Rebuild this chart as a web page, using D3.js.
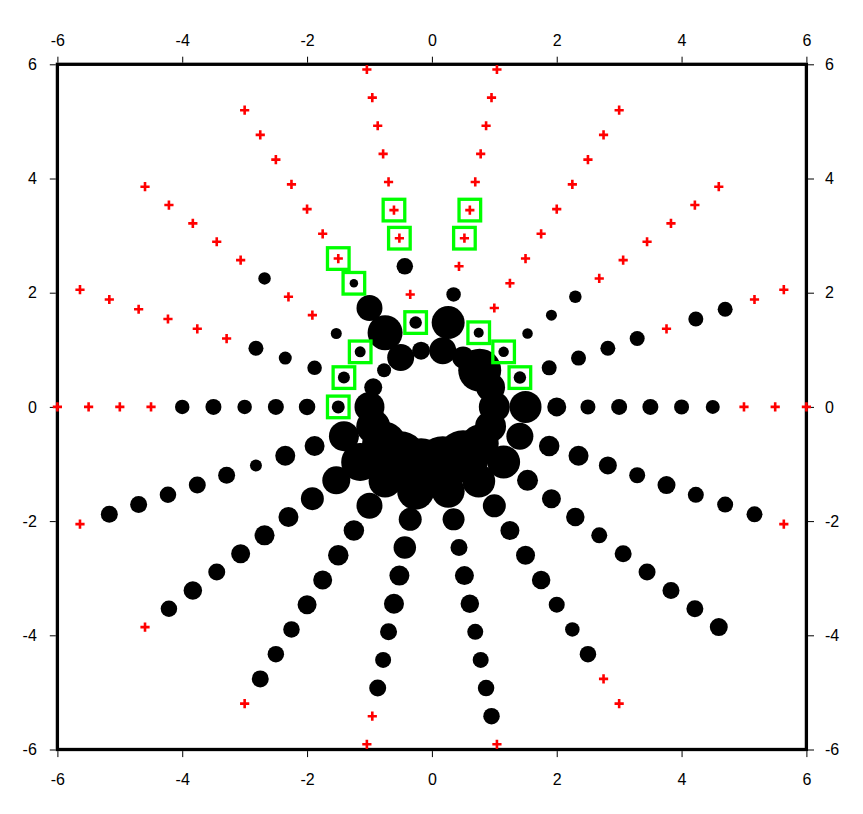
<!DOCTYPE html>
<html><head><meta charset="utf-8">
<script src="https://cdn.jsdelivr.net/npm/d3@7"></script>
<style>html,body{margin:0;padding:0;background:#fff}</style>
</head><body>
<svg id="chart" width="863" height="814"></svg>
<script>
// ---- data ----
const tickValues = [-6, -4, -2, 0, 2, 4, 6];
const angles = [0, 20, 40, 60, 80, 100, 120, 140, 160, 180, 200, 220, 240, 260, 280, 300, 320, 340];
const radii  = [0.5, 1, 1.5, 2, 2.5, 3, 3.5, 4, 4.5, 5, 5.5, 6];
// symbol size (pt) per ray and radius; NaN = undefined value (red +), null = no symbol
const ray000 = [null, 31, 32, 19, 15, 16, 16, 15, 14, NaN, NaN, NaN];
const ray020 = [null, 29, 12.5, 15, 15, 15, 15, NaN, 15, 15, NaN, NaN];
const ray040 = [null, 43, 10.5, 10.5, 11, 12.5, NaN, NaN, NaN, NaN, NaN, NaN];
const ray060 = [null, 22, 10, NaN, NaN, NaN, NaN, NaN, NaN, NaN, NaN, NaN];
const ray080 = [null, 27, 33, 14.5, NaN, NaN, NaN, NaN, NaN, NaN, NaN, NaN];
const ray100 = [null, 18, 12.5, NaN, 16.5, NaN, NaN, NaN, NaN, NaN, NaN, NaN];
const ray120 = [null, 27, 35, 26, 8.5, NaN, NaN, NaN, NaN, NaN, NaN, NaN];
const ray140 = [null, 14, 11, 11, NaN, NaN, 12.5, NaN, NaN, NaN, NaN, NaN];
const ray160 = [null, 18, 12, 14.5, 13, 15, NaN, NaN, NaN, NaN, NaN, NaN];
const ray180 = [null, 30, 13, 16.5, 16, 14.5, 16, 14.5, NaN, NaN, NaN, NaN];
const ray200 = [null, 34, 30, 20, 20, 12, 17, 17, 16.5, 17, 17, NaN];
const ray220 = [null, 44, 38, 28, 23, 20, 20, 19, 17, 18.5, 16.5, NaN];
const ray240 = [null, 50, 33, 26, 20.5, 20.5, 19, 19, 16.5, 16.5, 17, NaN];
const ray260 = [null, 50, 37, 23, 22.5, 20, 20, 17, 16, 17, NaN, NaN];
const ray280 = [null, 54, 33, 22, 17, 19, 18.5, 16, 16, 16.5, 16.5, NaN];
const ray300 = [null, 52, 33, 23, 19, 19, 18.5, 16, 14.5, 16.5, NaN, NaN];
const ray320 = [null, 38, 33, 21, 19, 18.5, 16, 17, 17, 17, 17, 18];
const ray340 = [null, 31, 27, 20.5, 20, 18, 16, 18, 16, 16, 16, NaN];
const rays = [ray000, ray020, ray040, ray060, ray080, ray100, ray120, ray140, ray160,
              ray180, ray200, ray220, ray240, ray260, ray280, ray300, ray320, ray340];
// highlighted points [angle, radius]
const flagged = [[20,1.5],[40,1.5],[60,1.5],[80,3],[80,3.5],[100,1.5],[100,3],[100,3.5],
                 [120,2.5],[120,3],[140,1.5],[160,1.5],[180,1.5]];

// ---- chart ----
const svg = d3.select('#chart');
const x = d3.scaleLinear().domain([-6, 6]).range([57.4, 806.4]);
const y = d3.scaleLinear().domain([-6, 6]).range([749.5, 64.3]);
const size = d3.scaleLinear().domain([0, 72]).range([0, 72]);
const rad = d3.scaleLinear().domain([0, 180]).range([0, Math.PI]);

const pts = [];
rays.forEach((ray, i) => ray.forEach((v, j) => {
  if (v === null) return;
  const t = rad(angles[i]);
  pts.push({a: angles[i], r: radii[j], v, px: x(radii[j]*Math.cos(t)), py: y(radii[j]*Math.sin(t))});
}));

// frame
svg.append('rect').attr('x', x(-6)).attr('y', y(6))
  .attr('width', x(6)-x(-6)).attr('height', y(-6)-y(6))
  .attr('fill', 'none').attr('stroke', '#000').attr('stroke-width', 3.3);

const font = '"Liberation Sans", Arial, Helvetica, sans-serif';
function styleAxis(g) {
  g.select('.domain').remove();
  g.selectAll('.tick line').attr('stroke', '#000').attr('stroke-width', 1);
  g.selectAll('.tick text').attr('fill', '#000').style('font-family', font).style('font-size', '16px');
}
const fmt = d => String(d);
svg.append('g').attr('transform', `translate(0,${y(6)-1.6})`)
  .call(d3.axisTop(x).tickValues(tickValues).tickFormat(fmt).tickSize(6).tickPadding(11)).call(styleAxis);
svg.append('g').attr('transform', `translate(0,${y(-6)+1.6})`)
  .call(d3.axisBottom(x).tickValues(tickValues).tickFormat(fmt).tickSize(6).tickPadding(17)).call(styleAxis);
svg.append('g').attr('transform', `translate(${x(-6)-1.6},0)`)
  .call(d3.axisLeft(y).tickValues(tickValues).tickFormat(fmt).tickSize(6).tickPadding(13)).call(styleAxis);
svg.append('g').attr('transform', `translate(${x(6)+1.6},0)`)
  .call(d3.axisRight(y).tickValues(tickValues).tickFormat(fmt).tickSize(6).tickPadding(11)).call(styleAxis);

// black circles
svg.append('g').selectAll('circle').data(pts.filter(d => !isNaN(d.v))).join('circle')
  .attr('cx', d => d.px).attr('cy', d => d.py).attr('r', d => size(d.v)/2).attr('fill', '#000');

// red crosses for undefined values
svg.append('g').selectAll('path').data(pts.filter(d => isNaN(d.v))).join('path')
  .attr('d', d => `M${d.px-4.6},${d.py}H${d.px+4.6}M${d.px},${d.py-4.6}V${d.py+4.6}`)
  .attr('stroke', '#ff0000').attr('stroke-width', 2.6).attr('fill', 'none');

// green squares
svg.append('g').selectAll('rect').data(flagged).join('rect')
  .attr('x', d => x(d[1]*Math.cos(rad(d[0]))) - 10.8)
  .attr('y', d => y(d[1]*Math.sin(rad(d[0]))) - 10.8)
  .attr('width', 21.6).attr('height', 21.6)
  .attr('fill', 'none').attr('stroke', '#00ff00').attr('stroke-width', 3.3);
</script>
</body></html>
